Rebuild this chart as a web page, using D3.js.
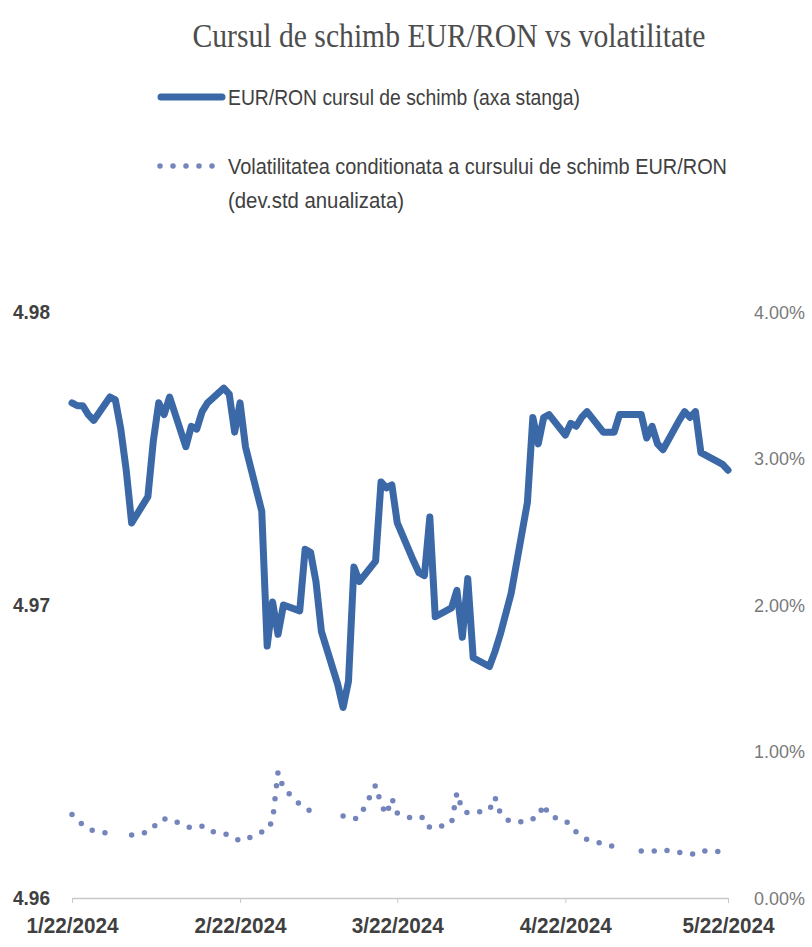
<!DOCTYPE html>
<html>
<head>
<meta charset="utf-8">
<script src="https://cdn.jsdelivr.net/npm/d3@7"></script>
<style>
  html, body { margin: 0; padding: 0; background: #ffffff; }
  svg { display: block; }
</style>
</head>
<body>
<svg id="chart" width="812" height="947"></svg>
<script>
// Business days, EUR/RON exchange rate (left axis) and
// conditional volatility in % (right axis); null = no value.
const dates = [
  "2024-01-22","2024-01-23","2024-01-24","2024-01-25","2024-01-26",
  "2024-01-29","2024-01-30","2024-01-31","2024-02-01","2024-02-02",
  "2024-02-05","2024-02-06","2024-02-07","2024-02-08","2024-02-09",
  "2024-02-12","2024-02-13","2024-02-14","2024-02-15","2024-02-16",
  "2024-02-19","2024-02-20","2024-02-21","2024-02-22","2024-02-23",
  "2024-02-26","2024-02-27","2024-02-28","2024-02-29","2024-03-01",
  "2024-03-04","2024-03-05","2024-03-06","2024-03-07","2024-03-08",
  "2024-03-11","2024-03-12","2024-03-13","2024-03-14","2024-03-15",
  "2024-03-18","2024-03-19","2024-03-20","2024-03-21","2024-03-22",
  "2024-03-25","2024-03-26","2024-03-27","2024-03-28","2024-03-29",
  "2024-04-01","2024-04-02","2024-04-03","2024-04-04","2024-04-05",
  "2024-04-08","2024-04-09","2024-04-10","2024-04-11","2024-04-12",
  "2024-04-15","2024-04-16","2024-04-17","2024-04-18","2024-04-19",
  "2024-04-22","2024-04-23","2024-04-24","2024-04-25","2024-04-26",
  "2024-04-29","2024-04-30","2024-05-01","2024-05-02","2024-05-03",
  "2024-05-06","2024-05-07","2024-05-08","2024-05-09","2024-05-10",
  "2024-05-13","2024-05-14","2024-05-15","2024-05-16","2024-05-17",
  "2024-05-20","2024-05-21","2024-05-22"
];

const eurRon = [
  4.9769, 4.9768, 4.9768, 4.9765, 4.9763,
  4.9771, 4.9770, 4.9760, 4.9746, 4.9728,
  4.9737, 4.9756, 4.9769, 4.9765, 4.9771,
  4.9754, 4.9761, 4.9760, 4.9766, 4.9769,
  4.9774, 4.9772, 4.9759, 4.9769, 4.9754,
  4.9732, 4.9686, 4.9701, 4.9690, 4.9700,
  4.9698, 4.9719, 4.9718, 4.9708, 4.9691,
  4.9673, 4.9665, 4.9674, 4.9713, 4.9708,
  4.9715, 4.9742, 4.9740, 4.9741, 4.9728,
  4.9715, 4.9711, 4.9710, 4.9730, 4.9696,
  4.9699, 4.9705, 4.9689, 4.9709, 4.9682,
  4.9679, 4.9684, 4.9690, 4.9697, 4.9704,
  4.9735, 4.9764, 4.9755, 4.9764, 4.9765,
  4.9758, 4.9762, 4.9761, 4.9764, 4.9766,
  4.9759, 4.9759, 4.9759, 4.9765, 4.9765,
  4.9765, 4.9757, 4.9761, 4.9755, 4.9753,
  4.9763, 4.9766, 4.9764, 4.9766, 4.9752,
  4.9749, 4.9748, 4.9746
];

const volatility = [
  0.57, 0.53, 0.50, 0.47, 0.46,
  0.44, null, null, null, 0.43,
  0.45, 0.48, 0.53, 0.54, 0.54,
  0.49, 0.48, 0.49, 0.49, 0.46,
  0.44, 0.43, 0.41, 0.39, 0.40,
  0.45, 0.46, 0.53, 0.86, 0.75,
  0.64, 0.62, 0.59, 0.58, 0.58,
  null, 0.56, 0.55, 0.54, 0.55,
  0.77, 0.64, 0.57, 0.68, 0.58,
  0.54, 0.55, 0.55, 0.48, 0.48,
  0.51, 0.72, 0.60, 0.58, 0.58,
  0.60, 0.69, 0.58, 0.54, 0.52,
  0.52, 0.54, 0.55, 0.64, 0.56,
  0.53, 0.49, 0.45, 0.42, 0.40,
  0.37, 0.36, 0.35, null, null,
  0.32, 0.32, 0.32, 0.32, 0.33,
  0.31, 0.31, 0.30, 0.30, 0.32,
  0.32, 0.30, 0.30
];

const xTickDates = ["2024-01-22","2024-02-22","2024-03-22","2024-04-22","2024-05-22"];
const leftTicks = [4.96, 4.97, 4.98];
const rightTicks = [0, 1, 2, 3, 4];

const titleText = "Cursul de schimb EUR/RON vs volatilitate";
const legendRate = "EUR/RON cursul de schimb (axa stanga)";
const legendVol = ["Volatilitatea conditionata a cursului de schimb EUR/RON", "(dev.std anualizata)"];

const parse = d3.timeParse("%Y-%m-%d");
const rows = dates.map((d, i) => ({ date: parse(d), rate: eurRon[i], vol: volatility[i] }));

const svg = d3.select("#chart");
const plot = { left: 72, right: 728, top: 312, bottom: 898 };

const x = d3.scaleTime()
  .domain([parse(dates[0]), parse(dates[dates.length - 1])])
  .range([plot.left, plot.right]);
const yLeft = d3.scaleLinear().domain([4.96, 4.98]).range([plot.bottom, plot.top]);
const yRight = d3.scaleLinear().domain([0, 4]).range([plot.bottom, plot.top]);

const sans = "'Liberation Sans', Arial, sans-serif";

// Condensed look: squeeze each label to a fixed advance width
function squeeze(sel, width) {
  sel.attr("textLength", width).attr("lengthAdjust", "spacingAndGlyphs");
}

// Title
svg.append("text")
  .attr("x", 449).attr("y", 47)
  .attr("text-anchor", "middle")
  .attr("font-family", "'Liberation Serif', 'DejaVu Serif', serif")
  .attr("font-size", 34)
  .attr("fill", "#4d4d4d")
  .call(squeeze, 513)
  .text(titleText);

// Legend
const lineColor = "#3b68a6";
const dotColor = "#7485bc";
svg.append("line")
  .attr("x1", 161).attr("x2", 222).attr("y1", 97).attr("y2", 97)
  .attr("stroke", lineColor).attr("stroke-width", 7).attr("stroke-linecap", "round");
svg.append("text")
  .attr("x", 228).attr("y", 105)
  .attr("font-family", sans).attr("font-size", 22).attr("fill", "#404040")
  .call(squeeze, 352)
  .text(legendRate);

svg.append("line")
  .attr("x1", 160).attr("x2", 216).attr("y1", 166).attr("y2", 166)
  .attr("stroke", dotColor).attr("stroke-width", 5.5).attr("stroke-linecap", "round")
  .attr("stroke-dasharray", "0 13");
const legendWidths = [499, 176];
legendVol.forEach((t, i) => {
  svg.append("text")
    .attr("x", 228).attr("y", 174 + i * 34)
    .attr("font-family", sans).attr("font-size", 22).attr("fill", "#404040")
    .call(squeeze, legendWidths[i])
    .text(t);
});

// X axis
const xAxis = d3.axisBottom(x)
  .tickValues(xTickDates.map(parse))
  .tickFormat(d3.timeFormat("%-m/%-d/%Y"))
  .tickSize(5)
  .tickSizeOuter(0)
  .tickPadding(14);
const gx = svg.append("g")
  .attr("transform", `translate(0,${plot.bottom})`)
  .call(xAxis);
gx.select(".domain").attr("stroke", "#c8c8c8").attr("stroke-width", 1.3);
gx.selectAll(".tick line").attr("stroke", "#c8c8c8");
gx.selectAll(".tick text")
  .attr("font-family", sans).attr("font-size", 22).attr("font-weight", "bold")
  .attr("fill", "#404040")
  .call(squeeze, 92);

// Left axis (labels only)
const gl = svg.append("g")
  .attr("transform", `translate(${50},0)`)
  .call(d3.axisLeft(yLeft).tickValues(leftTicks).tickFormat(d3.format(".2f")).tickSize(0).tickPadding(0));
gl.select(".domain").remove();
gl.selectAll(".tick text")
  .attr("font-family", sans).attr("font-size", 21).attr("font-weight", "bold")
  .attr("fill", "#404040")
  .call(squeeze, 37);

// Right axis (labels only)
const gr = svg.append("g")
  .attr("transform", `translate(${754},0)`)
  .call(d3.axisRight(yRight).tickValues(rightTicks).tickFormat(d => d3.format(".2f")(d) + "%").tickSize(0).tickPadding(0));
gr.select(".domain").remove();
gr.selectAll(".tick text")
  .attr("font-family", sans).attr("font-size", 19)
  .attr("fill", "#7a7a7a")
  .call(squeeze, 51);

// Volatility (dotted, right axis)
const volLine = d3.line()
  .defined(d => d.vol !== null)
  .x(d => x(d.date))
  .y(d => yRight(d.vol));
svg.append("path")
  .datum(rows)
  .attr("d", volLine)
  .attr("fill", "none")
  .attr("stroke", dotColor)
  .attr("stroke-width", 5.5)
  .attr("stroke-linecap", "round")
  .attr("stroke-dasharray", "0 13");

// Exchange rate (solid, left axis)
const rateLine = d3.line()
  .x(d => x(d.date))
  .y(d => yLeft(d.rate));
svg.append("path")
  .datum(rows)
  .attr("d", rateLine)
  .attr("fill", "none")
  .attr("stroke", lineColor)
  .attr("stroke-width", 7)
  .attr("stroke-linejoin", "round")
  .attr("stroke-linecap", "round");
</script>
</body>
</html>
